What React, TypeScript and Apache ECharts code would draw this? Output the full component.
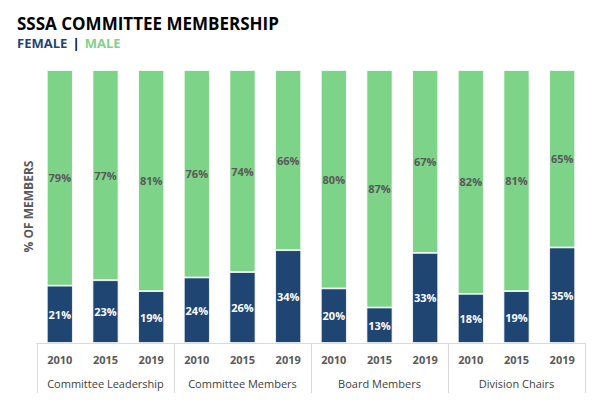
import React, { useEffect, useRef } from "react";
import * as echarts from "echarts";

const years = ["2010", "2015", "2019", "2010", "2015", "2019", "2010", "2015", "2019", "2010", "2015", "2019"];
const groups = ["Committee Leadership", "Committee Members", "Board Members", "Division Chairs"];
const female = [21, 23, 19, 24, 26, 34, 20, 13, 33, 18, 19, 35];
const male = [79, 77, 81, 76, 74, 66, 80, 87, 67, 82, 81, 65];

const NAVY = "#1f4572";
const GREEN = "#7dd388";
const FONT = "'Open Sans', sans-serif";

export default function App() {
  const ref = useRef<HTMLDivElement>(null);
  useEffect(() => {
    if (!ref.current) return;
    const chart = echarts.init(ref.current, undefined, { renderer: "svg" });
    chart.setOption({
      animation: false,
      textStyle: { fontFamily: FONT },
      title: {
        text: "SSSA COMMITTEE MEMBERSHIP",
        subtext: "{f|FEMALE} {s||} {m|MALE}",
        left: 12,
        top: 10,
        itemGap: 4,
        textStyle: { fontFamily: FONT, fontSize: 17, fontWeight: "bold", color: "#000" },
        subtextStyle: {
          fontFamily: FONT,
          rich: {
            f: { fontFamily: FONT, fontSize: 13, fontWeight: "bold", color: NAVY },
            s: { fontFamily: FONT, fontSize: 13, fontWeight: "bold", color: "#000", padding: [0, 2, 0, 2] },
            m: { fontFamily: FONT, fontSize: 13, fontWeight: "bold", color: GREEN },
          },
        },
      },
      grid: { left: 37, right: 15, top: 70, bottom: 57 },
      xAxis: [
        {
          type: "category",
          data: years,
          position: "bottom",
          axisLine: { show: true, lineStyle: { color: "#d9d9d9" } },
          axisTick: { show: false },
          axisLabel: { margin: 11, fontFamily: FONT, fontSize: 11, fontWeight: "bold", color: "#595959", interval: 0 },
        },
        {
          type: "category",
          data: groups,
          position: "bottom",
          axisLine: { show: true, lineStyle: { color: "#d9d9d9" } },
          axisTick: { show: true, length: 50, lineStyle: { color: "#d9d9d9" } },
          axisLabel: { margin: 35, fontFamily: FONT, fontSize: 11, color: "#404040", interval: 0 },
        },
      ],
      yAxis: {
        type: "value",
        min: 0,
        max: 100,
        show: true,
        axisLine: { show: false },
        axisTick: { show: false },
        axisLabel: { show: false },
        splitLine: { show: false },
        name: "% OF MEMBERS",
        nameLocation: "middle",
        nameGap: 3,
        nameTextStyle: { fontFamily: FONT, fontSize: 12, fontWeight: "bold", color: "#595959" },
      },
      series: [
        {
          name: "Female",
          type: "bar",
          stack: "s",
          xAxisIndex: 0,
          data: female,
          barWidth: "57%",
          itemStyle: { color: NAVY, borderColor: "#ffffff", borderWidth: 0.8 },
          label: {
            show: true,
            position: "inside",
            formatter: "{c}%",
            fontFamily: FONT,
            fontSize: 11,
            fontWeight: "bold",
            color: "#ffffff",
          },
        },
        {
          name: "Male",
          type: "bar",
          stack: "s",
          xAxisIndex: 0,
          data: male,
          barWidth: "57%",
          itemStyle: { color: GREEN, borderColor: "#ffffff", borderWidth: 0.8 },
          label: {
            show: true,
            position: "inside",
            formatter: "{c}%",
            fontFamily: FONT,
            fontSize: 11,
            fontWeight: "bold",
            color: "#595959",
          },
        },
      ],
    });
    return () => chart.dispose();
  }, []);
  return <div ref={ref} style={{ width: 600, height: 400, position: "absolute", left: 0, top: 0 }} />;
}
